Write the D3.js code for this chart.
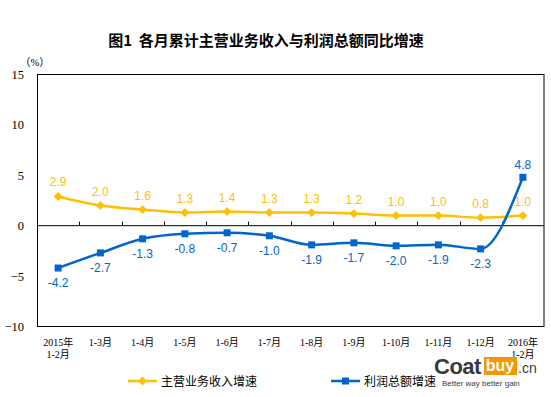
<!DOCTYPE html>
<html>
<head>
<meta charset="utf-8">
<script src="https://cdn.jsdelivr.net/npm/d3@7"></script>
<style>
  body { margin: 0; background: #fff; }
  svg { display: block; }
</style>
</head>
<body>
<svg></svg>
<script>
const width = 551;
const height = 397;

// data
const categories = ["2015年\n1-2月", "1-3月", "1-4月", "1-5月", "1-6月", "1-7月", "1-8月", "1-9月", "1-10月", "1-11月", "1-12月", "2016年\n1-2月"];
const revenueGrowth = [2.9, 2.0, 1.6, 1.3, 1.4, 1.3, 1.3, 1.2, 1.0, 1.0, 0.8, 1.0];
const profitGrowth = [-4.2, -2.7, -1.3, -0.8, -0.7, -1.0, -1.9, -1.7, -2.0, -1.9, -2.3, 4.8];
const yTicks = [-10, -5, 0, 5, 10, 15];
const seriesNames = ["主营业务收入增速", "利润总额增速"];

const yellow = "#FFC000";
const blue = "#0066CC";
const serif = "'Liberation Serif', 'Noto Sans CJK SC', serif";
const sans = "'Liberation Sans', Arial, 'Noto Sans CJK SC', sans-serif";

let svg = d3.select("svg")
    .attr("width", width)
    .attr("height", height);

let scaleX = d3.scaleBand()
    .domain(categories)
    .range([37, 544]);

let scaleY = d3.scaleLinear()
    .domain([-10, 15])
    .range([326.5, 74.5]);

const cx = i => scaleX(categories[i]) + scaleX.bandwidth() / 2;

// title
svg.append("text")
    .attr("x", 266)
    .attr("y", 46)
    .attr("text-anchor", "middle")
    .style("white-space", "pre")
    .style("font-family", "'Noto Sans CJK SC', sans-serif")
    .style("font-weight", "bold")
    .style("font-size", "15px")
    .text("图1  各月累计主营业务收入与利润总额同比增速");

svg.append("text")
    .attr("x", 20)
    .attr("y", 66)
    .style("font-family", serif)
    .style("font-size", "10.5px")
    .text("（%）");

// plot box
svg.append("rect")
    .attr("x", 37.5)
    .attr("y", scaleY(15))
    .attr("width", 544 - 37.5)
    .attr("height", scaleY(-10) - scaleY(15))
    .attr("fill", "none")
    .attr("stroke", "#000")
    .attr("stroke-width", 1);

// y axis labels
let axisY = d3.axisLeft(scaleY).tickValues(yTicks).tickSize(0).tickPadding(0);
let gy = svg.append("g")
    .attr("transform", "translate(24,0)")
    .call(axisY);
gy.select(".domain").remove();
gy.selectAll("text")
    .style("font-family", serif)
    .style("font-size", "12.5px")
    .attr("fill", "#000");

// zero line with category ticks
const y0 = scaleY(0);
svg.append("line")
    .attr("x1", 37).attr("x2", 544)
    .attr("y1", y0).attr("y2", y0)
    .attr("stroke", "#000");
svg.selectAll("line.tick")
    .data(categories.slice(1))
    .enter()
    .append("line")
    .attr("class", "tick")
    .attr("x1", d => Math.round(scaleX(d)) + 0.5)
    .attr("x2", d => Math.round(scaleX(d)) + 0.5)
    .attr("y1", y0)
    .attr("y2", y0 - 4)
    .attr("stroke", "#000");

// x labels
let xl = svg.selectAll("text.xlab")
    .data(categories)
    .enter()
    .append("text")
    .attr("class", "xlab")
    .attr("text-anchor", "middle")
    .attr("x", (d, i) => cx(i))
    .attr("y", 346)
    .style("font-family", serif)
    .style("font-size", "10px");
xl.selectAll("tspan")
    .data(d => d.split("\n"))
    .enter()
    .append("tspan")
    .attr("x", function () { return d3.select(this.parentNode).attr("x"); })
    .attr("dy", (d, i) => i === 0 ? 0 : 12)
    .text(d => d);

let line = d3.line()
    .x((d, i) => cx(i))
    .y(d => scaleY(d))
    .curve(d3.curveMonotoneX);

// revenue series
svg.append("path")
    .datum(revenueGrowth)
    .attr("d", line)
    .attr("fill", "none")
    .attr("stroke", yellow)
    .attr("stroke-width", 2.5);

const diamond = d3.symbol().type(d3.symbolDiamond2).size(50);
svg.selectAll("path.rmark")
    .data(revenueGrowth)
    .enter()
    .append("path")
    .attr("class", "rmark")
    .attr("d", diamond)
    .attr("transform", (d, i) => `translate(${cx(i)},${scaleY(d)})`)
    .attr("fill", yellow);

svg.selectAll("text.rlab")
    .data(revenueGrowth)
    .enter()
    .append("text")
    .attr("class", "rlab")
    .attr("text-anchor", "middle")
    .attr("x", (d, i) => cx(i))
    .attr("y", d => scaleY(d) - 10)
    .attr("fill", yellow)
    .style("font-family", sans)
    .style("font-size", "12px")
    .text(d => d.toFixed(1));

// profit series
svg.append("path")
    .datum(profitGrowth)
    .attr("d", line)
    .attr("fill", "none")
    .attr("stroke", blue)
    .attr("stroke-width", 2.5);

svg.selectAll("rect.pmark")
    .data(profitGrowth)
    .enter()
    .append("rect")
    .attr("class", "pmark")
    .attr("x", (d, i) => cx(i) - 3.5)
    .attr("y", d => scaleY(d) - 3.5)
    .attr("width", 7)
    .attr("height", 7)
    .attr("fill", blue);

svg.selectAll("text.plab")
    .data(profitGrowth)
    .enter()
    .append("text")
    .attr("class", "plab")
    .attr("text-anchor", "middle")
    .attr("x", (d, i) => cx(i))
    .attr("y", d => d > 0 ? scaleY(d) - 8 : scaleY(d) + 19)
    .attr("fill", blue)
    .style("font-family", sans)
    .style("font-size", "12px")
    .text(d => d.toFixed(1));

// legend
const legend = [
    {name: seriesNames[0], color: yellow, x: 128},
    {name: seriesNames[1], color: blue, x: 331}
];
const ly = 381;
let lg = svg.selectAll("g.legend")
    .data(legend)
    .enter()
    .append("g")
    .attr("class", "legend")
    .attr("transform", d => `translate(${d.x},${ly})`);
lg.append("line")
    .attr("x1", 0).attr("x2", 29)
    .attr("stroke", d => d.color)
    .attr("stroke-width", 2.5);
lg.filter((d, i) => i === 0).append("path")
    .attr("d", diamond)
    .attr("transform", "translate(14.5,0)")
    .attr("fill", yellow);
lg.filter((d, i) => i === 1).append("rect")
    .attr("x", 11).attr("y", -3.5)
    .attr("width", 7).attr("height", 7)
    .attr("fill", blue);
lg.append("text")
    .attr("x", 33)
    .attr("y", 4.5)
    .style("font-family", "'Noto Sans CJK SC', sans-serif")
    .style("font-size", "12px")
    .attr("fill", "#000")
    .text(d => d.name);

// watermark
let wm = svg.append("g");
wm.append("text")
    .attr("x", 434).attr("y", 374)
    .attr("fill", "#3a3a3a")
    .style("font-family", sans)
    .style("font-weight", "bold")
    .style("font-size", "22px")
    .style("letter-spacing", "-0.5px")
    .text("Coat");
wm.append("rect")
    .attr("x", 484).attr("y", 357)
    .attr("width", 33).attr("height", 18)
    .attr("fill", "#F39800");
wm.append("text")
    .attr("x", 500).attr("y", 371)
    .attr("text-anchor", "middle")
    .attr("fill", "#fff")
    .style("font-family", sans)
    .style("font-weight", "bold")
    .style("font-size", "16px")
    .text("buy");
wm.append("text")
    .attr("x", 518).attr("y", 373)
    .attr("fill", "#3a3a3a")
    .style("font-family", sans)
    .style("font-size", "14px")
    .text(".cn");
wm.append("text")
    .attr("x", 442).attr("y", 386)
    .attr("fill", "#3a3a3a")
    .style("font-family", sans)
    .style("font-size", "8px")
    .text("Better way better gain");
</script>
</body>
</html>
